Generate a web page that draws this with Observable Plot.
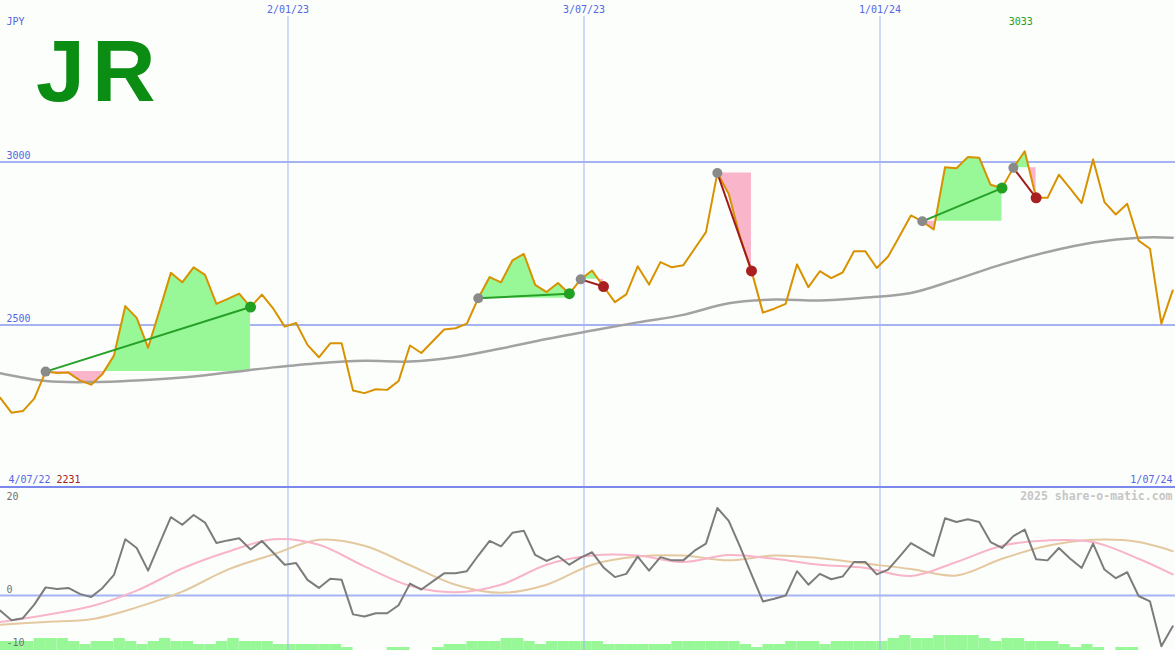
<!DOCTYPE html>
<html>
<head>
<meta charset="utf-8">
<script src="https://cdn.jsdelivr.net/npm/d3@7"></script>
<script src="https://cdn.jsdelivr.net/npm/@observablehq/plot@0.6"></script>
<style>
  html, body { margin: 0; padding: 0; background: #fcfefc; }
  #chart { position: relative; width: 1175px; height: 650px; background: #fcfefc; overflow: hidden; }
  #logo { position: absolute; left: 36px; top: 26.5px; font: bold 88px/88px "Liberation Sans", Arial, sans-serif; color: #0b8c12; letter-spacing: 7px; white-space: nowrap; }
  #sep { position: absolute; left: 0; top: 486px; width: 1175px; height: 2px; background: #7b88ec; }
  .layer { position: absolute; left: 0; }
</style>
</head>
<body>
<div id="chart"></div>
<script>
// ---------------- data ----------------
const firstWeek = "2022-07-09";           // first weekly point (left edge)
const weekCount = 104;
const currency = "JPY";
const logoText = "JR";
const startLabel = "4/07/22";
const endLabel = "1/07/24";
const watermark = "2025 share-o-matic.com";

// weekly closing price (JPY)
const price = [
  2277,2231,2236,2274,2357,2353,2354,2330,2317,2350,
  2406,2558,2522,2430,2544,2660,2631,2677,2654,2565,
  2580,2596,2555,2593,2550,2495,2506,2439,2401,2444,
  2444,2299,2291,2303,2301,2328,2437,2414,2450,2486,
  2490,2504,2582,2647,2631,2698,2718,2623,2601,2629,
  2596,2640,2667,2618,2570,2594,2680,2624,2693,2677,
  2683,2734,2785,2966,2902,2769,2666,2538,2550,2565,
  2686,2616,2665,2644,2661,2726,2726,2675,2710,2772,
  2836,2818,2793,2984,2981,3015,3013,2930,2920,2982,
  3033,2890,2890,2961,2918,2874,3008,2877,2839,2872,
  2759,2734,2504,2606
];

// oscillator (lower panel, grey line)
const osc = [
  -2.8,-4.6,-4.2,-1.7,1.5,1.2,1.4,0.3,-0.3,1.4,
  3.8,10.4,8.8,4.6,9.6,14.5,13.1,14.9,13.5,9.7,
  10.2,10.6,8.5,10.1,7.9,5.7,6.0,2.9,1.4,3.1,
  2.9,-3.5,-3.9,-3.3,-3.3,-1.8,2.2,1.1,2.6,4.1,
  4.1,4.5,7.4,10.1,9.1,11.6,12.0,7.5,6.4,7.3,
  5.7,7.0,8.0,5.2,3.4,4.0,7.2,4.6,7.1,6.5,
  6.5,8.3,9.6,16.2,13.8,9.0,3.9,-1.1,-0.6,0.0,
  4.5,2.0,4.0,3.0,3.5,6.2,6.2,3.9,4.8,7.2,
  9.7,8.5,7.3,14.3,13.6,14.1,13.6,9.9,8.8,11.0,
  12.2,6.7,6.5,8.8,6.8,5.1,9.6,4.8,3.2,4.3,
  -0.1,-1.1,-9.4,-5.7
];

// weekly volume level (green bars at the bottom)
const volume = [
  3,3,3,4,4,4,3,2,3,3,
  4,3,2,3,4,3,3,2,2,3,
  4,3,3,3,2,2,2,2,2,2,
  1,0,0,0,1,1,0,0,1,2,
  2,3,3,3,4,4,3,2,3,3,
  3,3,3,2,2,2,2,2,2,3,
  3,3,3,3,3,2,1,2,2,3,
  3,3,2,3,3,3,3,3,4,5,
  4,4,5,5,5,5,4,3,4,4,
  3,3,3,2,1,2,1,0,1,1,
  0,0,0,0
];

// smooth lines sampled every 4 weeks (week index)
const smoothWeeks = [0,4,8,12,16,20,24,28,32,36,40,44,48,52,56,60,64,68,72,76,80,84,88,92,96,100,103];
const priceMA = [2352,2328,2325,2330,2339,2354,2370,2383,2390,2388,2402,2428,2457,2483,2508,2531,2567,2578,2575,2584,2598,2640,2686,2724,2753,2768,2768];
const oscFast = [-4.9,-3.6,-2.0,0.9,5.0,8.1,10.4,9.4,5.4,1.8,0.6,2.0,5.7,7.4,7.4,6.2,7.5,6.8,5.7,5.1,3.6,6.2,9.2,10.2,9.9,6.8,3.9];
const oscSlow = [-5.4,-4.9,-4.4,-2.2,0.7,4.8,7.6,10.3,9.2,5.6,2.0,0.5,2.0,5.7,7.2,7.4,6.5,7.4,6.9,5.9,4.9,3.7,6.8,9.2,10.3,9.9,8.2];

// trades (week indices)
const tradeEntry = [4, 42, 51, 63, 81, 89];
const tradeExit  = [22, 50, 53, 66, 88, 91];

// grid
const gridDates = ["2023-01-02", "2023-07-03", "2024-01-01"];
const gridLabels = ["2/01/23", "3/07/23", "1/01/24"];
const priceTicks = [3000, 2500];
const oscTickLabels = ["20", "0", "-10"];

// ---------------- build ----------------
const W = 1175;
const blue = "#5565e6";
const gridColor = "#a6b3f3";
const greenFill = "#98f898";
const pinkFill = "#f9b5c9";
const font = "DejaVu Sans Mono";
const T = {fontSize: 10, lineAnchor: "middle"};

const d0 = new Date(firstWeek + "T00:00Z");
const dates = d3.range(weekCount).map(k => d3.utcDay.offset(d0, 7 * k));
const xDomain = [new Date(Date.UTC(2022, 6, 9, 6)), new Date(Date.UTC(2024, 5, 30, 16, 30))];
const grid = gridDates.map((d, i) => ({date: new Date(d + "T00:00Z"), label: gridLabels[i]}));

const priceData = price.map((p, k) => ({date: dates[k], p}));
const maData = smoothWeeks.map((k, i) => ({date: dates[k], v: priceMA[i]}));
const fastData = smoothWeeks.map((k, i) => ({date: dates[k], v: oscFast[i]}));
const slowData = smoothWeeks.map((k, i) => ({date: dates[k], v: oscSlow[i]}));
const oscData = osc.map((v, k) => ({date: dates[k], v}));
const volData = volume.map((v, k) => ({x1: dates[k], x2: d3.utcDay.offset(dates[k], 7), v})).filter(d => d.v > 0);

const trades = tradeEntry.map((e, i) => {
  const x = tradeExit[i];
  const win = price[x] > price[e];
  return {d1: dates[e], p1: price[e], d2: dates[x], p2: price[x],
          link: win ? "#26a026" : "#a01c1c", dot: win ? "#22a022" : "#a82020"};
});

// fill points between price and entry level, with crossings inserted
const fillPts = [];
tradeEntry.forEach((e, i) => {
  const base = price[e];
  for (let k = e; k <= tradeExit[i]; k++) {
    if (k > e) {
      const a = price[k - 1], b = price[k];
      if ((a - base) * (b - base) < 0) {
        const f = (base - a) / (b - a);
        fillPts.push({trade: i, base, p: base, date: new Date(+dates[k - 1] + f * (dates[k] - dates[k - 1]))});
      }
    }
    fillPts.push({trade: i, base, p: price[k], date: dates[k]});
  }
});

const maxK = d3.maxIndex(price), minK = d3.minIndex(price);

const topPlot = Plot.plot({
  width: W, height: 486, margin: 0,
  x: {type: "utc", domain: xDomain, axis: null},
  y: {domain: [2004.6, 3495.4], axis: null},
  color: {type: "identity"},
  style: {background: "transparent", fontFamily: font, overflow: "visible"},
  marks: [
    Plot.ruleX(grid, {x: "date", stroke: gridColor, strokeWidth: 1, insetTop: 16}),
    Plot.ruleY(priceTicks, {stroke: gridColor, strokeWidth: 2}),
    Plot.areaY(fillPts, {x: "date", y1: "base", y2: d => Math.max(d.p, d.base), z: "trade", fill: greenFill}),
    Plot.areaY(fillPts, {x: "date", y1: "base", y2: d => Math.min(d.p, d.base), z: "trade", fill: pinkFill}),
    Plot.line(maData, {x: "date", y: "v", stroke: "#a2a2a2", strokeWidth: 2.5, curve: "catmull-rom"}),
    Plot.line(priceData, {x: "date", y: "p", stroke: "#d89200", strokeWidth: 2}),
    Plot.link(trades, {x1: "d1", y1: "p1", x2: "d2", y2: "p2", stroke: "link", strokeWidth: 2}),
    Plot.dot(trades, {x: "d1", y: "p1", r: 5, fill: "#8a8a8a"}),
    Plot.dot(trades, {x: "d2", y: "p2", r: 5.5, fill: "dot"}),
    Plot.text(priceTicks, {...T, y: d => d, text: d => String(d), frameAnchor: "left", textAnchor: "start", dx: 6, dy: -6, fill: blue}),
    Plot.text(grid, {...T, x: "date", text: "label", frameAnchor: "top", dy: 9, fill: blue}),
    Plot.text([currency], {...T, frameAnchor: "top-left", textAnchor: "start", dx: 6, dy: 21, fill: blue}),
    Plot.text([priceData[maxK]], {...T, x: "date", text: d => String(d.p), frameAnchor: "top", dx: -4, dy: 21, fill: "#22a022"}),
    Plot.text([startLabel], {...T, frameAnchor: "bottom-left", textAnchor: "start", dx: 8, dy: -7, fill: blue}),
    Plot.text([String(price[minK])], {...T, frameAnchor: "bottom-left", textAnchor: "start", dx: 56, dy: -7, fill: "#a52020"}),
    Plot.text([endLabel], {...T, frameAnchor: "bottom-right", textAnchor: "end", dx: -3, dy: -7, fill: blue})
  ]
});

const volPlot = Plot.plot({
  width: W, height: 162, margin: 0,
  x: {type: "utc", domain: xDomain, axis: null},
  y: {domain: [0, 54], axis: null},
  style: {background: "transparent"},
  marks: [
    Plot.rectY(volData, {x1: "x1", x2: "x2", y: "v", fill: greenFill})
  ]
});

const oscPlot = Plot.plot({
  width: W, height: 162, margin: 0,
  x: {type: "utc", domain: xDomain, axis: null},
  y: {domain: [-10.19, 19.81], axis: null},
  style: {background: "transparent", fontFamily: font, overflow: "visible"},
  marks: [
    Plot.ruleX(grid, {x: "date", stroke: gridColor, strokeWidth: 1}),
    Plot.ruleY([0], {stroke: gridColor, strokeWidth: 2}),
    Plot.line(slowData, {x: "date", y: "v", stroke: "#e4c9a0", strokeWidth: 2, curve: "catmull-rom"}),
    Plot.line(fastData, {x: "date", y: "v", stroke: "#f8b4c8", strokeWidth: 2, curve: "catmull-rom"}),
    Plot.line(oscData, {x: "date", y: "v", stroke: "#7c7c7c", strokeWidth: 2}),
    Plot.text([oscTickLabels[0]], {...T, frameAnchor: "top-left", textAnchor: "start", dx: 6, dy: 8.5, fill: "#707070"}),
    Plot.text([oscTickLabels[1]], {...T, y: [0], frameAnchor: "left", textAnchor: "start", dx: 6, dy: -6, fill: "#707070"}),
    Plot.text([oscTickLabels[2]], {...T, frameAnchor: "bottom-left", textAnchor: "start", dx: 6, dy: -8, fill: "#707070"}),
    Plot.text([watermark], {...T, frameAnchor: "top-right", textAnchor: "end", dx: -3, dy: 8, fill: "#c6c6c6", fontSize: 11.5, fontWeight: "bold"})
  ]
});

const chart = document.getElementById("chart");
const topDiv = document.createElement("div");
topDiv.className = "layer"; topDiv.style.top = "0px";
topDiv.appendChild(topPlot);
chart.appendChild(topDiv);

const logo = document.createElement("div");
logo.id = "logo"; logo.textContent = logoText;
chart.appendChild(logo);

const sep = document.createElement("div");
sep.id = "sep";
chart.appendChild(sep);

const volDiv = document.createElement("div");
volDiv.className = "layer"; volDiv.style.top = "488px";
volDiv.appendChild(volPlot);
chart.appendChild(volDiv);

const oscDiv = document.createElement("div");
oscDiv.className = "layer"; oscDiv.style.top = "488px";
oscDiv.appendChild(oscPlot);
chart.appendChild(oscDiv);
</script>
</body>
</html>
